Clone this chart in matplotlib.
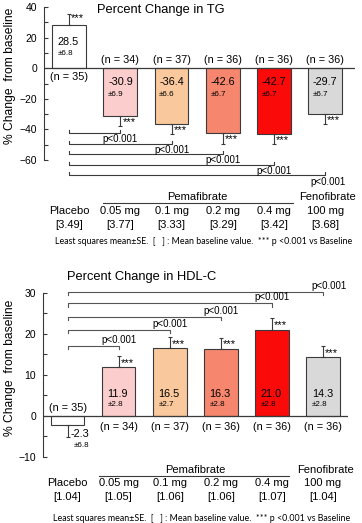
#!/usr/bin/env python3
"""
Percent change in TG and HDL-C, pemafibrate vs placebo / fenofibrate
"""

import matplotlib
matplotlib.use('Agg')
import matplotlib.pyplot as plt
import numpy as np

plt.rcParams['font.family'] = ['Liberation Sans', 'DejaVu Sans']
plt.rcParams['axes.linewidth'] = 0.8

# ---- data -------------------------------------------------------------
doses = ['Placebo', '0.05 mg', '0.1 mg', '0.2 mg', '0.4 mg', '100 mg']
n_subjects = [35, 34, 37, 36, 36, 36]

tg_mean = [28.5, -30.9, -36.4, -42.6, -42.7, -29.7]
tg_se = [6.8, 6.9, 6.6, 6.7, 6.7, 6.7]
tg_sig = [True, True, True, True, True, True]
tg_baseline = ['[3.49]', '[3.77]', '[3.33]', '[3.29]', '[3.42]', '[3.68]']

hdl_mean = [-2.3, 11.9, 16.5, 16.3, 21.0, 14.3]
hdl_se_label = [6.8, 2.8, 2.7, 2.8, 2.8, 2.8]
hdl_err = [2.8, 2.8, 2.7, 2.8, 2.8, 2.8]   # whisker lengths as drawn
hdl_sig = [False, True, True, True, True, True]
hdl_baseline = ['[1.04]', '[1.05]', '[1.06]', '[1.06]', '[1.07]', '[1.04]']

# bracket levels for the placebo-vs-dose comparisons
tg_brackets = [-42.5, -49.5, -56.0, -63.0, -70.0]
hdl_brackets = [17.1, 21.0, 24.1, 27.5, 30.2]

colors = ['#ffffff', '#fbcdcd', '#f9c89c', '#f6876e', '#fb0a0a', '#d9d9d9']
EDGE = '#3a3a3a'
FOOT = 'Least squares mean\u00b1SE.  [   ] : Mean baseline value.  *** p <0.001 vs Baseline'

fig = plt.figure(figsize=(3.62, 5.23), dpi=100)
ax1 = fig.add_axes([0.1215, 0.694, 0.859, 0.2925])
ax2 = fig.add_axes([0.1188, 0.1262, 0.8425, 0.3136])

x = np.arange(len(doses))
W = 0.66


def style_axis(ax, ylim, major, minor):
    ax.set_ylim(*ylim)
    for s in ['top', 'right', 'bottom']:
        ax.spines[s].set_visible(False)
    ax.spines['left'].set_color(EDGE)
    ax.set_xticks([])
    ax.set_yticks(np.arange(ylim[0], ylim[1] + 0.1, major))
    ax.set_yticks(np.arange(ylim[0], ylim[1] + 0.1, minor), minor=True)
    ax.tick_params(axis='y', which='both', direction='in', length=3,
                   width=0.8, color=EDGE, pad=5, labelsize=7.5)
    ax.axhline(0, color=EDGE, lw=0.9, zorder=3)
    ax.patch.set_visible(False)


def draw_bars(ax, means, errs, sig, star_frac):
    ax.bar(x, means, W, color=colors, edgecolor=EDGE, linewidth=0.8, zorder=2)
    for xi, m, e, s in zip(x, means, errs, sig):
        sgn = 1 if m >= 0 else -1
        ax.errorbar(xi, m, yerr=[[0 if sgn > 0 else e], [e if sgn > 0 else 0]],
                    fmt='none', ecolor=EDGE, elinewidth=0.8, capsize=1.5,
                    capthick=0.8, zorder=3)
        if s:
            ax.text(xi + 0.04, m + sgn * e * star_frac, '***', fontsize=8,
                    ha='left', va='center', zorder=4)


def draw_groups(ax, y_group, y_line, y_dose, y_base, y_foot, seg, baselines):
    ax.text(2.5, y_group, 'Pemafibrate', ha='center', va='center', fontsize=8, clip_on=False)
    ax.text(5.05, y_group, 'Fenofibrate', ha='center', va='center', fontsize=8, clip_on=False)
    ax.plot(seg, [y_line, y_line], color=EDGE, lw=0.8, clip_on=False)
    for xi, d, b in zip(x, doses, baselines):
        ax.text(xi, y_dose, d, ha='center', va='center', fontsize=8, clip_on=False)
        ax.text(xi, y_base, b, ha='center', va='center', fontsize=8, clip_on=False)
    ax.text(2.63, y_foot, FOOT, ha='center', va='center', fontsize=6.4,
            family=['Lato', 'DejaVu Sans'], clip_on=False)


# ---- TG panel ---------------------------------------------------------
style_axis(ax1, (-60, 40), 20, 10)
ax1.set_xlim(-0.49, 5.58)
ax1.spines['left'].set_bounds(-60, 40)
draw_bars(ax1, tg_mean, tg_se, tg_sig, 0.6)
ax1.set_ylabel('% Change  from baseline', fontsize=8.7)
ax1.yaxis.set_label_coords(-0.09, 0.55)
ax1.text(0.55, 37.9, 'Percent Change in TG', fontsize=9.3, ha='left', va='center')

for xi, m, se, n in zip(x, tg_mean, tg_se, n_subjects):
    left = xi - W / 2 + 0.11
    if m > 0:
        ax1.text(left, 17.0, f'{m:.1f}', fontsize=7.8, ha='left', va='center')
        ax1.text(left, 9.8, f'\u00b1{se:.1f}', fontsize=5.8, ha='left', va='center')
        ax1.text(xi, -5.9, f'(n = {n})', fontsize=7.8, ha='center', va='center')
    else:
        ax1.text(left - 0.02, -9.2, f'{m:.1f}', fontsize=7.8, ha='left', va='center')
        ax1.text(left - 0.02, -17.0, f'\u00b1{se:.1f}', fontsize=5.8, ha='left', va='center')
        ax1.text(xi, 5.2, f'(n = {n})', fontsize=7.8, ha='center', va='center')

for i, lev in enumerate(tg_brackets, start=1):
    ax1.plot([0, 0, i, i], [lev + 2, lev, lev, lev + 2], color=EDGE, lw=0.8, clip_on=False)
    dx = 0.05 if i == 5 else 0
    ax1.text(i + dx, lev - 0.8, 'p<0.001', fontsize=7, ha='center', va='top', clip_on=False)

draw_groups(ax1, -84.3, -88.2, -93.5, -102.6, -113.0, [0.66, 4.37], tg_baseline)

# ---- HDL-C panel ------------------------------------------------------
style_axis(ax2, (-10, 30), 10, 5)
ax2.set_xlim(-0.48, 5.49)
draw_bars(ax2, hdl_mean, hdl_err, hdl_sig, 0.4)
ax2.set_ylabel('% Change  from baseline', fontsize=8.7)
ax2.yaxis.set_label_coords(-0.087, 0.543)
ax2.text(-0.01, 33.9, 'Percent Change in HDL-C', fontsize=9.3, ha='left', va='center',
         clip_on=False)

for xi, m, se, n in zip(x, hdl_mean, hdl_se_label, n_subjects):
    if m > 0:
        left = xi - W / 2 + 0.11
        ax2.text(left, 5.4, f'{m:.1f}', fontsize=7.8, ha='left', va='center')
        ax2.text(left, 2.7, f'\u00b1{se:.1f}', fontsize=5.8, ha='left', va='center')
        ax2.text(xi, -2.7, f'(n = {n})', fontsize=7.8, ha='center', va='center')
    else:
        ax2.text(xi + 0.05, -4.4, f'{m:.1f}', fontsize=7.8, ha='left', va='center')
        ax2.text(xi + 0.12, -7.1, f'\u00b1{se:.1f}', fontsize=5.8, ha='left', va='center')
        ax2.text(xi, 2.0, f'(n = {n})', fontsize=7.8, ha='center', va='center')

for i, lev in enumerate(hdl_brackets, start=1):
    ax2.plot([0, 0, i, i], [lev - 0.8, lev, lev, lev - 0.8], color='#555555', lw=0.8,
             clip_on=False)
    dx = 0.12 if i == 5 else 0
    ax2.text(i + dx, lev + 0.2, 'p<0.001', fontsize=7, ha='center', va='bottom', clip_on=False)

draw_groups(ax2, -13.2, -14.6, -16.3, -19.8, -24.9, [0.62, 4.33], hdl_baseline)

fig.savefig('out.png', dpi=100)
